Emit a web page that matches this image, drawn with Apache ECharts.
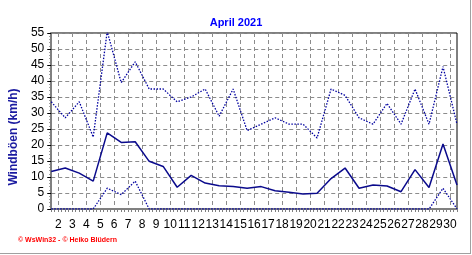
<!DOCTYPE html>
<html>
<head>
<meta charset="utf-8">
<script src="https://cdn.jsdelivr.net/npm/echarts@6/dist/echarts.min.js"></script>
<style>html,body{margin:0;padding:0;background:#fff}#c{width:472px;height:255px}</style>
</head>
<body>
<div id="c"></div>
<script>
// Data
const days = [1,2,3,4,5,6,7,8,9,10,11,12,13,14,15,16,17,18,19,20,21,22,23,24,25,26,27,28,29,30];
const maxGust = [33.5,28.5,33.5,22.5,55.5,39.5,46,37.5,37.5,33.5,35,37.5,29,37.5,24.5,26.5,28.5,26.5,26.5,22.2,37.5,35.5,28.5,26.5,33,26.5,37.5,26.5,44.5,26.5];
const meanGust = [11.7,12.8,11.2,8.7,23.8,20.8,21,14.9,13.3,6.8,10.5,8.1,7.3,7,6.5,7,5.7,5.2,4.7,4.9,9.5,12.8,6.5,7.5,7.2,5.4,12.3,6.7,20.3,7.5];
const minGust = [0,0,0,0,6.5,4.5,8.7,0,0,0,0,0,0,0,0,0,0,0,0,0,0,0,0,0,0,0,0,0,6.5,0];
const xTickLabels = ['2','3','4','5','6','7','8','9','10','11','12','13','14','15','16','17','18','19','20','21','22','23','24','25','26','27','28','29','30'];
const yTicks = [0,5,10,15,20,25,30,35,40,45,50,55];
const titleText = 'April 2021';
const yName = 'Windböen (km/h)';
const footer = '© WsWin32 - © Heiko Blüdern';

const labelPos = xTickLabels.map(l => Number(l) - 0.5);
const pairs = a => a.map((v, i) => [days[i], v]);

const chart = echarts.init(document.getElementById('c'), null, {renderer: 'canvas'});
const FONT = 'Liberation Sans, Arial, sans-serif';
chart.setOption({
  animation: false,
  title: {text: titleText, left: 'center', top: 12, textStyle: {fontFamily: FONT, fontSize: 11, fontWeight: 'bold', color: '#0000ff'}},
  grid: {left: 51, right: 15, top: 33, bottom: 46, show: true, borderColor: '#000', borderWidth: 1, backgroundColor: 'transparent'},
  xAxis: [{
    type: 'value', min: 1, max: 30,
    axisLine: {show: true, lineStyle: {color: '#808080', width: 2}},
    axisTick: {show: false, customValues: labelPos},
    axisLabel: {customValues: labelPos, formatter: v => String(Math.round(v + 0.5)), fontFamily: FONT, fontSize: 12, color: '#000', margin: 10},
    splitLine: {show: true, lineStyle: {color: '#8c8c8c', type: [4, 3], width: 1}}
  }, {
    type: 'value', min: 1, max: 30, interval: 0.25, position: 'bottom',
    axisLine: {show: false},
    axisTick: {show: true, length: 3, lineStyle: {color: '#808080'}},
    axisLabel: {show: false}, splitLine: {show: false}
  }],
  yAxis: {
    type: 'value', min: 0, max: 55, interval: 5,
    name: yName, nameLocation: 'middle', nameGap: 30,
    nameTextStyle: {fontFamily: FONT, fontSize: 12, fontWeight: 'bold', color: '#1a1aa0', padding: [0, 32, 0, 0]},
    axisLine: {show: true, lineStyle: {color: '#808080', width: 2}},
    axisTick: {show: true, length: 4, lineStyle: {color: '#000'}},
    minorTick: {show: true, splitNumber: 5, length: 2, lineStyle: {color: '#808080'}},
    axisLabel: {fontFamily: FONT, fontSize: 12, color: '#000', margin: 7, formatter: v => yTicks.includes(v) ? String(v) : ''},
    splitLine: {show: true, lineStyle: {color: '#8c8c8c', type: [4, 3], width: 1}}
  },
  series: [
    {type: 'line', name: 'max', data: pairs(maxGust), symbol: 'none', lineStyle: {color: '#0000a0', width: 1.3, type: [1.5, 1.5]}, z: 3},
    {type: 'line', name: 'mean', data: pairs(meanGust), symbol: 'none', lineStyle: {color: '#0a0a8c', width: 1.5}, z: 4},
    {type: 'line', name: 'min', data: pairs(minGust), symbol: 'none', lineStyle: {color: '#0000a0', width: 1.3, type: [1.5, 1.5]}, z: 3}
  ],
  graphic: [
    {type: 'text', left: 18, top: 237, style: {text: footer, fill: '#ff0000', font: 'bold 7px ' + FONT}},
    {type: 'line', shape: {x1: 470.5, y1: 0, x2: 470.5, y2: 254}, style: {stroke: '#a0a0a0', lineWidth: 1}},
    {type: 'line', shape: {x1: 0, y1: 253.5, x2: 471, y2: 253.5}, style: {stroke: '#a0a0a0', lineWidth: 1}}
  ]
});
</script>
</body>
</html>
